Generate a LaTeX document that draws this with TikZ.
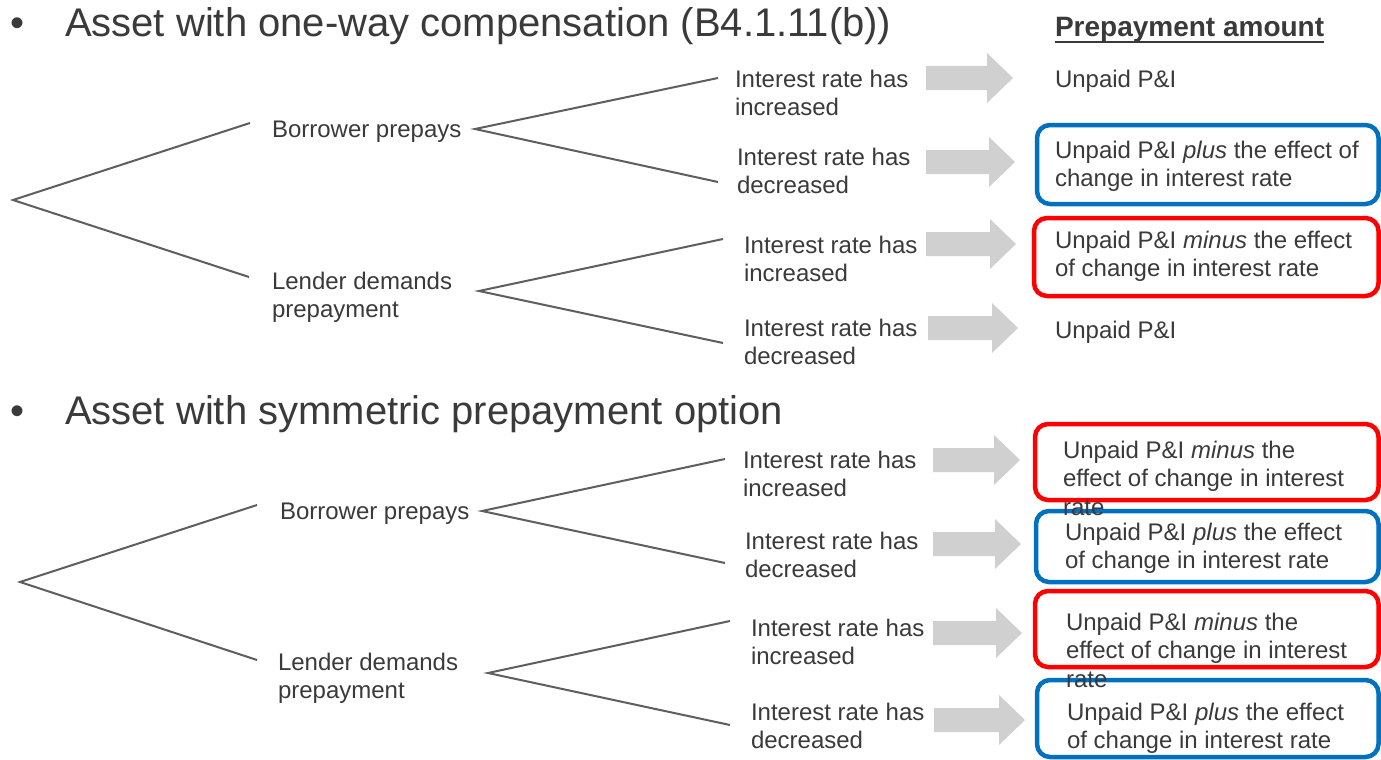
\documentclass[tikz,border=0pt]{standalone}
\usepackage{fontspec}
\setmainfont{Liberation Sans}
\definecolor{txt}{HTML}{3A3A3A}
\definecolor{linegray}{HTML}{5E5E5E}
\definecolor{arrowgray}{HTML}{D0D0D0}
\definecolor{boxblue}{HTML}{0070C0}
\definecolor{boxred}{HTML}{FF0000}
\newcommand{\grarrow}[3]{%
  \fill[arrowgray] (#1,#3-12) -- (#2-26,#3-12) -- (#2-26,#3-25) -- (#2,#3)
    -- (#2-26,#3+25) -- (#2-26,#3+12) -- (#1,#3+12) -- cycle;}
\tikzset{
  tx/.style={inner sep=0pt, outer sep=0pt, anchor=base west, align=left,
    text=txt, font=\fontsize{24}{28.5}\selectfont},
  ttl/.style={tx, font=\fontsize{40}{48}\selectfont},
  hdr/.style={tx, font=\fontsize{28}{32}\selectfont\bfseries},
  br/.style={draw=linegray, line width=2pt},
  bbox/.style={draw=boxblue, line width=4.5pt, rounded corners=13pt},
  rbox/.style={draw=boxred, line width=4.5pt, rounded corners=13pt},
}
\begin{document}
\begin{tikzpicture}[x=1pt,y=-1pt]
\fill[white] (0,0) rectangle (1381,760);
\useasboundingbox (0,0) rectangle (1381,760);

% ---------- titles ----------
\node[ttl] (bul1) at (10,37) {•};
\node[ttl] (t1) at (65,37) {Asset with one-way compensation (B4.1.11(b))};
\node[ttl] (bul2) at (10,424) {•};
\node[ttl] (t2) at (65,424) {Asset with symmetric prepayment option};
\node[hdr] (pa) at (1055,37) {Prepayment amount};
\draw[txt, line width=2pt] ([yshift=-5pt]pa.base west) -- ([yshift=-5pt]pa.base east);

% ---------- top tree ----------
% (multi-line nodes are placed by the baseline of their last line)
\coordinate (r1) at (13,200);
\coordinate (b1a) at (250,123);
\coordinate (l1a) at (249,277);
\coordinate (b1o) at (475,129);
\coordinate (l1o) at (479,291);
\coordinate (e1) at (718,78);
\coordinate (e2) at (718,182);
\coordinate (e3) at (723,239);
\coordinate (e4) at (723,343);
\draw[br] (b1a) -- (r1) -- (l1a);
\draw[br] (e1) -- (b1o) -- (e2);
\draw[br] (e3) -- (l1o) -- (e4);

\node[tx] (bp1) at (272,137) {Borrower prepays};
\node[tx] (ld1) at (272,317.5) {Lender demands\\prepayment};
\node[tx] (i1) at (735,115.5) {Interest rate has\\increased};
\node[tx] (i2) at (737,193.5) {Interest rate has\\decreased};
\node[tx] (i3) at (744,281.5) {Interest rate has\\increased};
\node[tx] (i4) at (744,364.5) {Interest rate has\\decreased};

\grarrow{926}{1013}{78}
\grarrow{926}{1015}{162}
\grarrow{926}{1016}{244}
\grarrow{928}{1018}{328}

\draw[bbox] (1037,125) rectangle (1378.5,204);
\draw[rbox] (1034,218) rectangle (1378.5,296);

\node[tx] (u1) at (1055,88) {Unpaid P\&I};
\node[tx] (p1) at (1055,186.5) {Unpaid P\&I \textit{plus} the effect of\\change in interest rate};
\node[tx] (m1) at (1055,276.5) {Unpaid P\&I \textit{minus} the effect\\of change in interest rate};
\node[tx] (u2) at (1055,338) {Unpaid P\&I};

% ---------- bottom tree ----------
\coordinate (r2) at (20,582);
\coordinate (b2a) at (257,505);
\coordinate (l2a) at (257,660);
\coordinate (b2o) at (482,511);
\coordinate (l2o) at (488,673);
\coordinate (e5) at (725,459);
\coordinate (e6) at (725,563);
\coordinate (e7) at (730,621);
\coordinate (e8) at (730,725);
\draw[br] (b2a) -- (r2) -- (l2a);
\draw[br] (e5) -- (b2o) -- (e6);
\draw[br] (e7) -- (l2o) -- (e8);

\node[tx] (bp2) at (280,519) {Borrower prepays};
\node[tx] (ld2) at (278,698.5) {Lender demands\\prepayment};
\node[tx] (i5) at (743,496.5) {Interest rate has\\increased};
\node[tx] (i6) at (745,577.5) {Interest rate has\\decreased};
\node[tx] (i7) at (751,664.5) {Interest rate has\\increased};
\node[tx] (i8) at (751,748.5) {Interest rate has\\decreased};

\grarrow{933}{1020}{460}
\grarrow{933}{1021}{544}
\grarrow{933}{1022}{633}
\grarrow{934}{1025}{720}

\draw[rbox] (1035,424) rectangle (1378.5,500);
\draw[bbox] (1036,511) rectangle (1378.5,582);
\draw[rbox] (1035,591) rectangle (1378.5,667);
\draw[bbox] (1037,680) rectangle (1378.5,757);

\node[tx] (m2) at (1063,515) {Unpaid P\&I \textit{minus} the\\effect of change in interest\\rate};
\node[tx] (p2) at (1065,568.5) {Unpaid P\&I \textit{plus} the effect\\of change in interest rate};
\node[tx] (m3) at (1066,687) {Unpaid P\&I \textit{minus} the\\effect of change in interest\\rate};
\node[tx] (p3) at (1067,748.5) {Unpaid P\&I \textit{plus} the effect\\of change in interest rate};
\end{tikzpicture}
\end{document}
